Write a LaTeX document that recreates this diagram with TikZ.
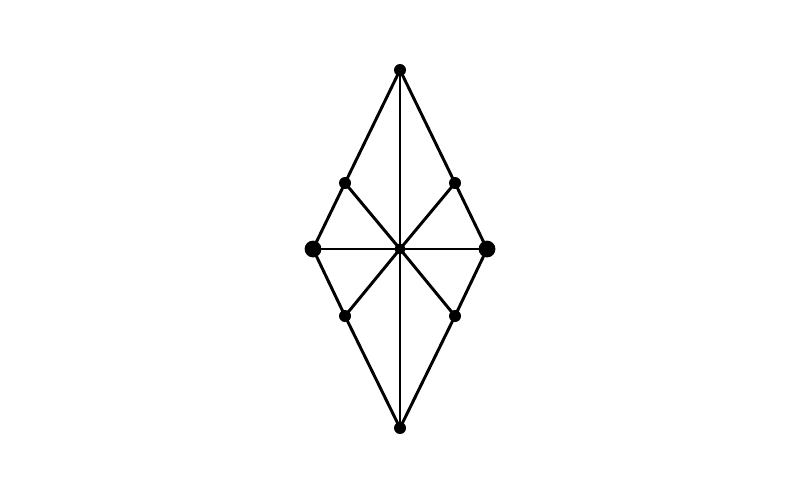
\documentclass[tikz,border=0pt]{standalone}
\begin{document}
\begin{tikzpicture}[x=0.025cm,y=-0.025cm,
	dot/.style={circle,fill=black,inner sep=0pt,minimum size=0.3cm},
	bigdot/.style={circle,fill=black,inner sep=0pt,minimum size=0.42cm},
	edge/.style={line width=2.1pt}]

	% Frame
	\useasboundingbox (0,0) rectangle (800,500);

	% Vertices
	\node[dot] (top) at (400,70) {};
	\node[dot] (bot) at (400,428) {};
	\node[bigdot] (left) at (313,249) {};
	\node[bigdot] (right) at (487,249) {};
	\node[dot,minimum size=0.28cm] (mid) at (400,249) {};
	\node[dot] (ul) at (345,183) {};
	\node[dot] (ur) at (455,183) {};
	\node[dot] (ll) at (345,316) {};
	\node[dot] (lr) at (455,316) {};

	% Outline
	\draw[edge] (top.center) -- (ul.center) -- (left.center) -- (ll.center) -- (bot.center)
		-- (lr.center) -- (right.center) -- (ur.center) -- cycle;

	% Spokes
	\foreach \n in {top,bot,left,right,ul,ur,ll,lr}
		\draw[edge] (mid.center) -- (\n.center);

\end{tikzpicture}
\end{document}
